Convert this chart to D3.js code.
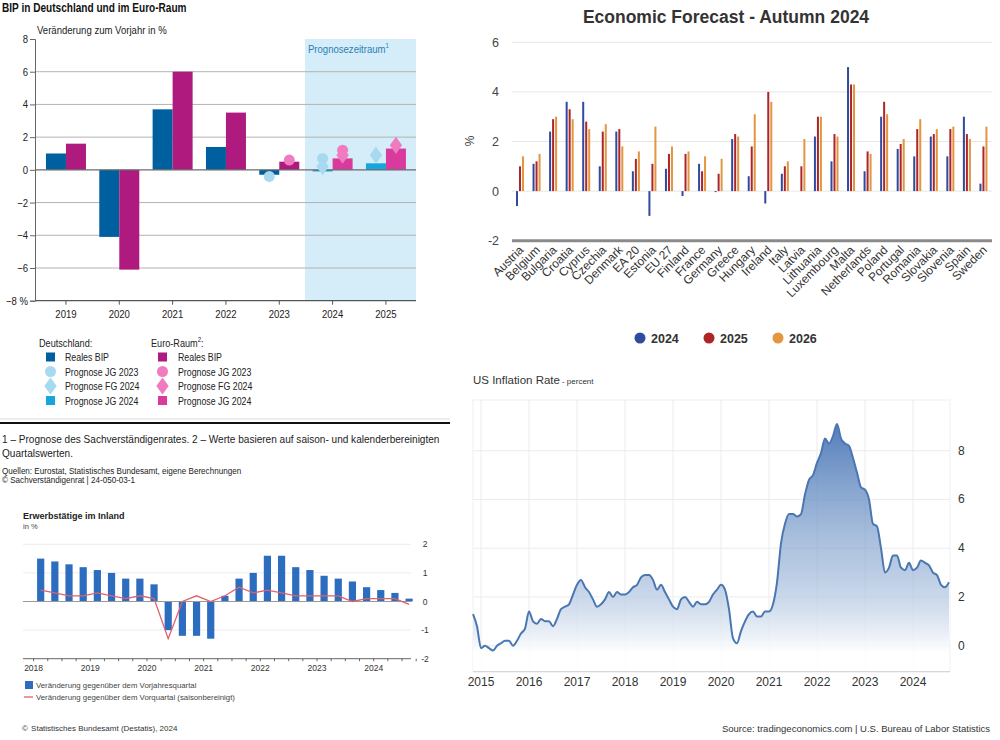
<!DOCTYPE html>
<html><head><meta charset="utf-8">
<script src="https://cdn.jsdelivr.net/npm/d3@7"></script>
<style>
body{margin:0;background:#fff}
svg{display:block}
text{font-family:"Liberation Sans",Arial,sans-serif}
</style>
</head><body>
<svg id="c" width="1000" height="740"></svg>
<script>
// ---------- Chart 1: BIP in Deutschland und im Euro-Raum ----------
const bipYears = ["2019","2020","2021","2022","2023","2024","2025"];
const deReal  = [1.0, -4.1, 3.7, 1.4, -0.3, null, null];
const euReal  = [1.6, -6.1, 6.0, 3.5, 0.5, null, null];
const deJG24  = [null, null, null, null, null, -0.1, 0.4];
const euJG24  = [null, null, null, null, null, 0.7, 1.3];
const deJG23  = [null, null, null, null, -0.4, 0.7, null];
const euJG23  = [null, null, null, null, 0.6, 1.2, null];
const deFG24  = [null, null, null, null, null, 0.2, 0.9];
const euFG24  = [null, null, null, null, null, 0.9, 1.5];
const bipTicks = [8, 6, 4, 2, 0, -2, -4, -6, -8];

// ---------- Chart 2: Economic Forecast - Autumn 2024 ----------
const countries = ["Austria","Belgium","Bulgaria","Croatia","Cyprus","Czechia","Denmark","EA 20","Estonia","EU 27","Finland","France","Germany","Greece","Hungary","Ireland","Italy","Latvia","Lithuania","Luxembourg","Malta","Netherlands","Poland","Portugal","Romania","Slovakia","Slovenia","Spain","Sweden"];
const fc2024 = [-0.6,1.1,2.4,3.6,3.6,1.0,2.4,0.8,-1.0,0.9,-0.2,1.1,-0.04,2.1,0.6,-0.5,0.7,0.0,2.2,1.2,5.0,0.8,3.0,1.7,1.4,2.2,1.4,3.0,0.3];
const fc2025 = [1.0,1.2,2.9,3.3,2.8,2.4,2.5,1.3,1.1,1.5,1.5,0.8,0.7,2.3,1.8,4.0,1.0,1.0,3.0,2.3,4.3,1.6,3.6,1.9,2.5,2.3,2.5,2.3,1.8];
const fc2026 = [1.4,1.5,3.0,2.9,2.5,2.7,1.8,1.6,2.6,1.8,1.6,1.4,1.3,2.2,3.1,3.6,1.2,2.1,3.0,2.2,4.3,1.5,3.1,2.1,2.9,2.5,2.6,2.1,2.6];
const fcSeries = ["2024","2025","2026"];
const fcTicks = [-2, 0, 2, 4, 6];

// ---------- Chart 3: Erwerbstätige im Inland ----------
const empYears = ["2018","2019","2020","2021","2022","2023","2024"];
const empYoY = [1.5,1.4,1.3,1.2, 1.1,1.0,0.8,0.8, 0.6,-1.0,-1.2,-1.2, -1.3,0.2,0.8,1.0, 1.6,1.6,1.2,1.1, 0.9,0.8,0.7,0.5, 0.4,0.3,0.1];
const empQoQ = [0.4,0.3,0.2,0.2, 0.3,0.2,0.1,0.2, 0.1,-1.3,0.0,0.2, 0.0,0.2,0.5,0.3, 0.4,0.3,0.2,0.2, 0.2,0.2,0.0,0.1, 0.1,0.1,-0.1];
const empTicks = [2, 1, 0, -1, -2];

// ---------- Chart 4: US Inflation Rate ----------
const inflStart = {year: 2014, month: 11};
const inflValues = [
  1.3,0.8,
  -0.1,0.0,-0.1,-0.2,0.0,0.1,0.2,0.2,0.0,0.2,0.5,0.7,
  1.4,1.0,0.9,1.1,1.0,1.0,0.8,1.1,1.5,1.6,1.7,2.1,
  2.5,2.7,2.4,2.2,1.9,1.6,1.7,1.9,2.2,2.0,2.2,2.1,
  2.1,2.2,2.4,2.5,2.8,2.9,2.9,2.7,2.3,2.5,2.2,1.9,
  1.6,1.5,1.9,2.0,1.8,1.6,1.8,1.7,1.7,1.8,2.1,2.3,
  2.5,2.3,1.5,0.3,0.1,0.6,1.0,1.3,1.4,1.2,1.2,1.4,
  1.4,1.7,2.6,4.2,5.0,5.4,5.4,5.3,5.4,6.2,6.8,7.0,
  7.5,7.9,8.5,8.3,8.6,9.1,8.5,8.3,8.2,7.7,7.1,6.5,
  6.4,6.0,5.0,4.9,4.0,3.0,3.2,3.7,3.7,3.2,3.1,3.4,
  3.1,3.2,3.5,3.4,3.3,3.0,2.9,2.5,2.4,2.6
];
const inflYears = [2015,2016,2017,2018,2019,2020,2021,2022,2023,2024];
const inflTicks = [0, 2, 4, 6, 8];

const svg = d3.select("#c");
svg.append("rect").attr("width",1000).attr("height",740).attr("fill","#fff");

// condensed-looking text helper
function ntext(parent, x, y, str, size, sx, opts){
  opts = opts || {};
  const t = parent.append("text").attr("transform",`translate(${x},${y}) scale(${sx},1)`)
    .attr("font-size",size).attr("fill",opts.fill||"#222");
  if (opts.bold) t.attr("font-weight","bold");
  if (opts.anchor) t.attr("text-anchor",opts.anchor);
  t.text(str);
  return t;
}

// ================= Chart 1 =================
(function(){
  const g = svg.append("g");
  const SX = 0.87;
  const C = {deReal:"#005f9e", euReal:"#ae1a7e", deJG24:"#16a6de", euJG24:"#d83a9e", deMark:"#a7d9f0", euMark:"#f07cbf"};
  const y = d3.scaleLinear().domain([-8,8]).range([300.7,39]);
  const x = d3.scaleBand().domain(bipYears).range([39.3,412.6]);
  const cx = d => x(d) + x.bandwidth()/2;
  const L = 35, R = 416;

  ntext(g, 2, 12, "BIP in Deutschland und im Euro-Raum", 12, 0.84, {bold:true, fill:"#111"});
  ntext(g, 37, 34, "Veränderung zum Vorjahr in %", 11, SX);

  // forecast area
  g.append("rect").attr("x",x("2024")-1).attr("y",y(8)).attr("width",R-(x("2024")-1)).attr("height",y(-8)-y(8)).attr("fill","#d4edf9");
  ntext(g, x("2024")+2, 53, "Prognosezeitraum", 11, SX, {fill:"#2b7fb5"})
    .append("tspan").attr("font-size",7).attr("dy",-5).text("1");

  // grid
  g.selectAll(".gl").data(bipTicks.filter(t=>t!==0 && Math.abs(t)!==8)).join("line")
    .attr("x1",L).attr("x2",R).attr("y1",d=>y(d)).attr("y2",d=>y(d)).attr("stroke","#b3b3b3").attr("stroke-width",1);

  // bars
  const bars = [];
  bipYears.forEach((yr,i)=>{
    if (deReal[i]!=null) bars.push({yr, v:deReal[i], side:-1, c:C.deReal});
    if (euReal[i]!=null) bars.push({yr, v:euReal[i], side:0, c:C.euReal});
    if (deJG24[i]!=null) bars.push({yr, v:deJG24[i], side:-1, c:C.deJG24});
    if (euJG24[i]!=null) bars.push({yr, v:euJG24[i], side:0, c:C.euJG24});
  });
  g.selectAll(".b1").data(bars).join("rect")
    .attr("x",d=>cx(d.yr)+d.side*20).attr("width",20)
    .attr("y",d=>y(Math.max(0,d.v))).attr("height",d=>Math.max(1.2,Math.abs(y(d.v)-y(0))))
    .attr("fill",d=>d.c);

  // zero line
  g.append("line").attr("x1",L).attr("x2",R).attr("y1",y(0)).attr("y2",y(0)).attr("stroke","#6b6b6b").attr("stroke-width",1.2);

  // markers
  const marks = [];
  bipYears.forEach((yr,i)=>{
    if (deJG23[i]!=null) marks.push({yr,v:deJG23[i],side:-1,c:C.deMark,t:"c"});
    if (euJG23[i]!=null) marks.push({yr,v:euJG23[i],side:1,c:C.euMark,t:"c"});
    if (deFG24[i]!=null) marks.push({yr,v:deFG24[i],side:-1,c:C.deMark,t:"d"});
    if (euFG24[i]!=null) marks.push({yr,v:euFG24[i],side:1,c:C.euMark,t:"d"});
  });
  const sym = {c:d3.symbol().type(d3.symbolCircle).size(95)(), d:d3.symbol().type(d3.symbolDiamond).size(85)()};
  g.selectAll(".m1").data(marks).join("path")
    .attr("transform",d=>`translate(${cx(d.yr)+d.side*10},${y(d.v)})${d.t==="d"?" scale(1.25,1)":""}`)
    .attr("d",d=>sym[d.t]).attr("fill",d=>d.c);

  // axes
  const ay = g.append("g").attr("transform",`translate(${L},0)`)
    .call(d3.axisLeft(y).tickValues(bipTicks).tickSize(5).tickFormat(d=> d===-8 ? "−8 %" : (d<0 ? "−"+Math.abs(d) : d)));
  ay.select(".domain").attr("stroke","#666");
  ay.selectAll(".tick line").attr("stroke","#666");
  ay.selectAll("text").attr("font-size",11).attr("fill","#222").attr("font-family",null).attr("transform",`scale(${SX},1)`);
  const ax = g.append("g").attr("transform",`translate(0,${y(-8)})`)
    .call(d3.axisBottom(x).tickSize(4).tickPadding(5));
  ax.select(".domain").attr("d",`M${L},0H${R}`).attr("stroke","#555").attr("stroke-width",1.2);
  ax.selectAll(".tick line").attr("stroke","#555");
  ax.selectAll("text").attr("font-size",11).attr("fill","#222").attr("font-family",null).attr("transform",`scale(${SX},1)`);

  // legend
  const lg = g.append("g");
  ntext(lg, 39, 347, "Deutschland:", 10.5, SX);
  const eu = ntext(lg, 151, 347, "Euro-Raum", 10.5, SX);
  eu.append("tspan").attr("font-size",7).attr("dy",-5).text("2");
  eu.append("tspan").attr("dy",5).text(":");
  const labels = ["Reales BIP","Prognose JG 2023","Prognose FG 2024","Prognose JG 2024"];
  const rows = [361,375.5,390,404.5];
  [[46,65,[C.deReal,C.deMark,C.deMark,C.deJG24]],[158,178,[C.euReal,C.euMark,C.euMark,C.euJG24]]].forEach(([mx,tx,cols])=>{
    labels.forEach((lab,k)=>{
      const yy = rows[k]-4;
      if (k===0||k===3) lg.append("rect").attr("x",mx).attr("y",yy-4.5).attr("width",9).attr("height",9).attr("fill",cols[k]);
      else lg.append("path").attr("transform",`translate(${mx+4.5},${yy})${k===2?" scale(1.25,1)":""}`).attr("d",k===1?sym.c:sym.d).attr("fill",cols[k]);
      ntext(lg, tx, rows[k], lab, 11, 0.8);
    });
  });

  // separator & notes
  g.append("line").attr("x1",0).attr("x2",450).attr("y1",419).attr("y2",419).attr("stroke","#ddd");
  g.append("line").attr("x1",0).attr("x2",450).attr("y1",423).attr("y2",423).attr("stroke","#111").attr("stroke-width",2);
  ntext(g, 2, 443, "1 – Prognose des Sachverständigenrates.  2 – Werte basieren auf saison- und kalenderbereinigten", 11, 0.915);
  ntext(g, 2, 457, "Quartalswerten.", 11, 0.915);
  ntext(g, 2, 474, "Quellen: Eurostat, Statistisches Bundesamt, eigene Berechnungen", 9, 0.9);
  ntext(g, 2, 483, "© Sachverständigenrat | 24-050-03-1", 9, 0.9);
})();

// ================= Chart 2 =================
(function(){
  const g = svg.append("g");
  const col = {"2024":"#2f4b9d","2025":"#ad2528","2026":"#e3953f"};
  const y = d3.scaleLinear().domain([-2,6]).range([240.7,42.3]);
  const x0 = d3.scaleBand().domain(countries).range([512,992]);
  const x1 = d3.scaleBand().domain(fcSeries).range([3.5,12.5]);

  g.append("text").attr("x",726).attr("y",23).attr("text-anchor","middle").attr("font-size",17.5).attr("font-weight","bold").attr("fill","#333").text("Economic Forecast - Autumn 2024");

  g.selectAll(".g2").data(fcTicks.filter(t=>t!==-2)).join("line")
    .attr("x1",512).attr("x2",992).attr("y1",d=>y(d)).attr("y2",d=>y(d)).attr("stroke","#e6e6e6").attr("stroke-width",1);
  g.selectAll(".t2").data(fcTicks).join("text")
    .attr("x",499).attr("y",d=>y(d)+4.5).attr("text-anchor","end").attr("font-size",12.5).attr("fill","#444").text(d=>d);
  g.append("text").attr("transform","translate(474,141) rotate(-90)").attr("text-anchor","middle").attr("font-size",12).attr("fill","#444").text("%");

  const data = [];
  countries.forEach((c,i)=>{
    [fc2024,fc2025,fc2026].forEach((arr,k)=>data.push({c, s:fcSeries[k], v:arr[i]}));
  });
  g.selectAll(".b2").data(data).join("rect")
    .attr("x",d=>x0(d.c)+x1(d.s)+0.5).attr("width",2)
    .attr("y",d=>y(Math.max(0,d.v))).attr("height",d=>Math.abs(y(d.v)-y(0)))
    .attr("fill",d=>col[d.s]);

  g.append("line").attr("x1",512).attr("x2",992).attr("y1",y(-2)).attr("y2",y(-2)).attr("stroke","#8a8a8a").attr("stroke-width",3);

  g.selectAll(".xl").data(countries).join("text")
    .attr("transform",d=>`translate(${x0(d)+x0.bandwidth()/2+4},${y(-2)+10}) rotate(-45)`)
    .attr("text-anchor","end").attr("font-size",12).attr("fill","#333").text(d=>d);

  const lx = [640,709,778];
  fcSeries.forEach((s,k)=>{
    g.append("circle").attr("cx",lx[k]).attr("cy",338).attr("r",5.5).attr("fill",col[s]);
    g.append("text").attr("x",lx[k]+11).attr("y",342.5).attr("font-size",12.5).attr("font-weight","bold").attr("fill","#333").text(s);
  });
})();

// ================= Chart 3 =================
(function(){
  const g = svg.append("g");
  const y = d3.scaleLinear().domain([-2,2]).range([658.7,544.3]);
  const x = d3.scaleLinear().domain([0,28]).range([33.6,33.6+28*14.17]);
  const L = 23, R = 411;

  g.append("text").attr("x",23).attr("y",519).attr("font-size",9).attr("font-weight","bold").attr("fill","#222").text("Erwerbstätige im Inland");
  g.append("text").attr("x",23).attr("y",529).attr("font-size",7.5).attr("fill","#444").text("in %");

  g.selectAll(".g3").data(empTicks.filter(t=>t!==0 && t!==-2)).join("line")
    .attr("x1",L).attr("x2",R).attr("y1",d=>y(d)).attr("y2",d=>y(d)).attr("stroke","#ececec");
  g.selectAll(".t3").data(empTicks).join("text")
    .attr("x",425).attr("y",d=>y(d)+3).attr("text-anchor","middle").attr("font-size",8.5).attr("fill","#333").text(d=>d);

  g.selectAll(".b3").data(empYoY).join("rect")
    .attr("x",(d,i)=>x(i+0.5)-3.6).attr("width",7.2)
    .attr("y",d=>y(Math.max(0,d))).attr("height",d=>Math.abs(y(d)-y(0)))
    .attr("fill","#2d6dc0");
  g.append("line").attr("x1",L).attr("x2",R).attr("y1",y(0)).attr("y2",y(0)).attr("stroke","#999");

  g.append("path").datum(empQoQ)
    .attr("d",d3.line().x((d,i)=>x(i+0.5)).y(d=>y(d)))
    .attr("fill","none").attr("stroke","#e0606c").attr("stroke-width",1.3);

  g.append("line").attr("x1",L).attr("x2",R).attr("y1",y(-2)).attr("y2",y(-2)).attr("stroke","#666");
  g.selectAll(".tk3").data(d3.range(0,28)).join("line")
    .attr("x1",d=>x(d)).attr("x2",d=>x(d)).attr("y1",y(-2)).attr("y2",y(-2)+2.5).attr("stroke","#666");
  g.selectAll(".yl3").data(empYears).join("text")
    .attr("x",(d,i)=>x(i*4)).attr("y",671).attr("text-anchor","middle").attr("font-size",8.5).attr("fill","#333").text(d=>d);

  g.append("rect").attr("x",25).attr("y",681).attr("width",8).attr("height",8).attr("fill","#2d6dc0");
  g.append("text").attr("x",36).attr("y",688).attr("font-size",7.8).attr("fill","#444").text("Veränderung gegenüber dem Vorjahresquartal");
  g.append("line").attr("x1",24).attr("x2",33).attr("y1",697).attr("y2",697).attr("stroke","#e0606c").attr("stroke-width",1.3);
  g.append("text").attr("x",36).attr("y",700).attr("font-size",7.8).attr("fill","#444").text("Veränderung gegenüber dem Vorquartal (saisonbereinigt)");
  g.append("text").attr("x",22).attr("y",731).attr("font-size",8).attr("font-family","'Liberation Serif','DejaVu Serif',serif").attr("fill","#333").text("©\u2009\u2009Statistisches Bundesamt (Destatis), 2024");
})();

// ================= Chart 4 =================
(function(){
  const g = svg.append("g");
  const L = 473, R = 950, T = 400, B = 671.7;
  const x = d3.scaleLinear().domain([2015,2025]).range([481,961]);
  const y = d3.scaleLinear().domain([0,8]).range([645.7,450.7]);
  const pts = inflValues.map((v,i)=>({t: inflStart.year + (inflStart.month-1+i)/12, v}));

  const t = g.append("text").attr("x",473).attr("y",384).attr("font-size",11.5).attr("fill","#333").text("US Inflation Rate");
  t.append("tspan").attr("font-size",8).attr("dx",2).text("- percent");

  g.append("rect").attr("x",L).attr("y",T).attr("width",R-L).attr("height",B-T).attr("fill","none").attr("stroke","#f0f0f0");
  g.selectAll(".vg").data(inflYears).join("line")
    .attr("x1",d=>x(d)).attr("x2",d=>x(d)).attr("y1",T).attr("y2",B).attr("stroke","#ececec");
  g.selectAll(".hg").data(inflTicks).join("line")
    .attr("x1",L).attr("x2",R).attr("y1",d=>y(d)).attr("y2",d=>y(d)).attr("stroke","#ececec");

  const defs = svg.append("defs");
  const gr = defs.append("linearGradient").attr("id","ig").attr("gradientUnits","userSpaceOnUse")
    .attr("x1",0).attr("x2",0).attr("y1",y(9.1)).attr("y2",y(-0.3));
  gr.append("stop").attr("offset","0").attr("stop-color","#4a77b6").attr("stop-opacity",0.95);
  gr.append("stop").attr("offset","0.55").attr("stop-color","#7b9dcb").attr("stop-opacity",0.6);
  gr.append("stop").attr("offset","1").attr("stop-color","#ffffff").attr("stop-opacity",0.9);

  const curve = d3.curveMonotoneX;
  g.append("path").datum(pts).attr("d",d3.area().curve(curve).x(d=>x(d.t)).y0(B-1).y1(d=>y(d.v))).attr("fill","url(#ig)");
  g.append("path").datum(pts).attr("d",d3.line().curve(curve).x(d=>x(d.t)).y(d=>y(d.v)))
    .attr("fill","none").attr("stroke","#4a76b2").attr("stroke-width",2);

  g.append("line").attr("x1",L).attr("x2",R).attr("y1",B).attr("y2",B).attr("stroke","#d0d0d0");
  g.selectAll(".yt4").data(inflTicks).join("text")
    .attr("x",958).attr("y",d=>y(d)+4).attr("font-size",12).attr("fill","#333").text(d=>d);
  g.selectAll(".xt4").data(inflYears).join("text")
    .attr("x",d=>x(d)).attr("y",686).attr("text-anchor","middle").attr("font-size",12).attr("fill","#333").text(d=>d);

  g.append("text").attr("x",990).attr("y",732).attr("text-anchor","end").attr("font-size",9.5).attr("fill","#333")
    .text("Source: tradingeconomics.com | U.S. Bureau of Labor Statistics");
})();
</script>
</body></html>
